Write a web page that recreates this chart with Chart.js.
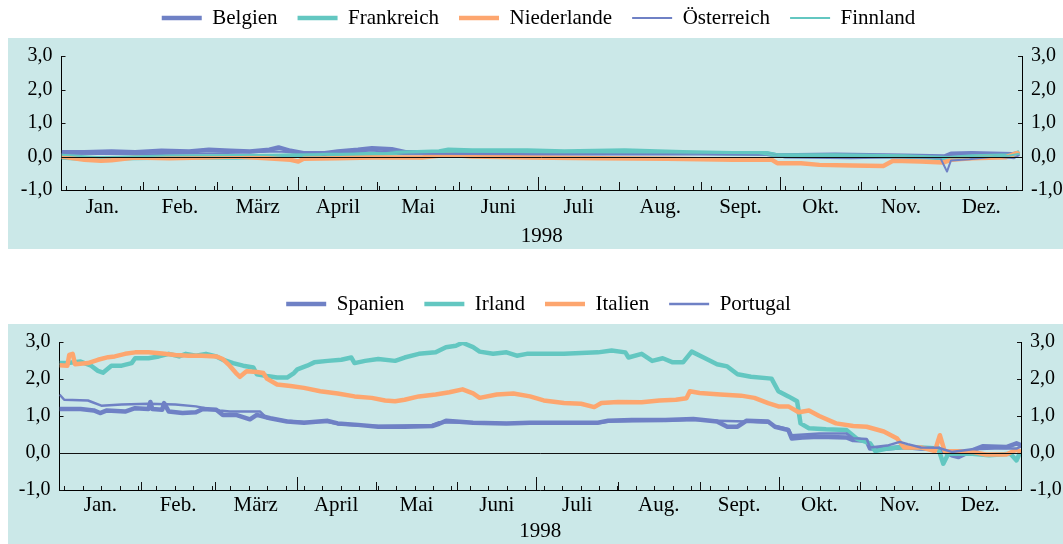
<!DOCTYPE html>
<html>
<head>
<meta charset="utf-8">
<script src="https://cdn.jsdelivr.net/npm/chart.js@4"></script>
<style>
  body { margin: 0; background: #fff; width: 1063px; height: 544px; overflow: hidden; position: relative; }
  canvas { position: absolute; left: 0; }
</style>
</head>
<body>
<canvas id="topChart" width="1063" height="250" style="top:0"></canvas>
<canvas id="bottomChart" width="1063" height="264" style="top:280px"></canvas>
<script>
// === DATA ===
const MONTH_LABELS = ['Jan.', 'Feb.', 'März', 'April', 'Mai', 'Juni', 'Juli', 'Aug.', 'Sept.', 'Okt.', 'Nov.', 'Dez.'];
const MONTH_STARTS = [0, 31, 59, 90, 120, 151, 181, 212, 243, 273, 304, 334, 365];
const QUARTER_STARTS = [90, 181, 273];
const WEEK_TICK_START = 1.8;
const Y_TICKS = [-1, 0, 1, 2, 3];
const YEAR_LABEL = '1998';

// top panel: [day of year, value]
const belgien = [[0,0.13],[8.7,0.13],[19,0.15],[28,0.13],[38,0.17],[48.5,0.15],[56,0.2],[64,0.17],[71.6,0.15],[79,0.2],[82.5,0.27],[87,0.17],[92,0.1],[100,0.1],[105,0.15],[112.7,0.2],[118,0.25],[125.5,0.22],[130.7,0.13],[143.5,0.13],[156,0.1],[177,0.1],[191,0.1],[217,0.1],[242.5,0.1],[268,0.08],[272,0.03],[294,0.05],[320,0.02],[335.5,0],[338,0.08],[346,0.1],[361.4,0.07],[364,0.1]];
const frankreich = [[0,-0.03],[8.7,-0.07],[21.5,-0.05],[41,-0.03],[66.5,-0.03],[79,0],[92,0.03],[105,0.05],[124,0.1],[143.5,0.15],[147,0.2],[156,0.18],[177,0.18],[191,0.15],[214,0.18],[236,0.13],[255,0.1],[268,0.1],[272,0.03],[294,0.03],[320,0],[337,-0.05],[346,0],[361,0.03],[364,0.13]];
const niederlande = [[0,0],[8.7,-0.1],[15,-0.13],[19,-0.11],[28,-0.03],[41,-0.05],[53.7,-0.03],[66.5,0],[78,-0.05],[87,-0.1],[90,-0.15],[92,-0.07],[105,-0.05],[118,-0.03],[137,-0.03],[147,0.05],[156,0],[178,-0.03],[204,-0.05],[230,-0.07],[255.4,-0.1],[270,-0.1],[272,-0.2],[281,-0.2],[288,-0.25],[300.6,-0.27],[312.3,-0.28],[316,-0.13],[326.5,-0.15],[335,-0.18],[338,-0.1],[346,-0.05],[359,-0.02],[363,0.1],[364,0.07]];
const oesterreich = [[0,0.08],[30,0.07],[60,0.1],[82,0.15],[100,0.07],[118,0.18],[130,0.08],[180,0.07],[240,0.08],[270,0.05],[275,-0.03],[300,-0.05],[320,-0.02],[334,-0.05],[336.5,-0.45],[338,-0.12],[345,-0.08],[355,0],[362,-0.05],[364,0.05]];
const finnland = [[0,0.05],[15,-0.02],[40,0.03],[80,0.05],[120,0.1],[150,0.15],[180,0.13],[230,0.12],[265,0.1],[272,0.02],[300,0],[330,-0.02],[340,-0.03],[360,0.02],[364,0.08]];

// bottom panel
const spanien = [[0,1.19],[8,1.19],[13,1.15],[15.4,1.08],[18,1.15],[24.9,1.12],[28.7,1.21],[33.8,1.19],[34.5,1.38],[35.2,1.19],[39,1.17],[39.7,1.35],[41.5,1.12],[46.7,1.08],[51.8,1.1],[54.4,1.19],[59.5,1.17],[62,1.03],[67,1.03],[72.3,0.91],[74.9,1.03],[80,0.94],[86.4,0.85],[92.8,0.82],[101.8,0.87],[105.6,0.8],[113.3,0.76],[121,0.71],[131,0.71],[141.5,0.73],[144.1,0.79],[146.7,0.87],[157,0.82],[169.7,0.8],[178.6,0.82],[204.4,0.82],[208.3,0.87],[217.3,0.89],[230,0.89],[240.6,0.92],[247,0.87],[249.6,0.85],[253.5,0.71],[257.4,0.71],[260.7,0.87],[269,0.85],[271.6,0.71],[276.7,0.62],[278,0.39],[282,0.42],[288.4,0.44],[298.7,0.42],[301.3,0.35],[306.4,0.33],[307.7,0.12],[314.2,0.12],[320.6,0.16],[327,0.12],[333.6,0.12],[338.7,-0.06],[341.3,-0.11],[346.5,0.07],[350.4,0.18],[359.4,0.16],[363.3,0.26],[365,0.21]];
const irland = [[0,2.43],[3,2.43],[8,2.47],[12,2.36],[14.6,2.22],[16.5,2.17],[19.7,2.36],[23.6,2.36],[27.4,2.43],[28.7,2.56],[33.8,2.56],[37.7,2.61],[41.5,2.68],[45.4,2.61],[48,2.68],[51.8,2.63],[55.6,2.68],[59.5,2.61],[62,2.52],[65.9,2.43],[69.7,2.36],[73.6,2.31],[74.9,2.13],[78.7,2.08],[82.6,2.04],[86.4,2.04],[89,2.16],[90.3,2.26],[94,2.36],[96.7,2.45],[101.8,2.49],[107,2.52],[110.8,2.58],[112,2.43],[116,2.49],[121,2.54],[127.4,2.49],[131,2.58],[136.4,2.68],[142.8,2.72],[146.7,2.86],[150.5,2.9],[153,2.98],[157,2.86],[159.5,2.74],[164.6,2.68],[169.7,2.72],[173.6,2.63],[177.4,2.68],[191.5,2.68],[204.4,2.72],[209.6,2.77],[214.8,2.72],[216,2.58],[221,2.68],[225,2.49],[229,2.56],[232.8,2.45],[236.7,2.45],[240,2.74],[244.5,2.58],[249.6,2.4],[253.5,2.34],[257.4,2.13],[262.5,2.06],[270.3,2.01],[272.9,1.67],[276.7,1.53],[280,1.4],[281.3,0.8],[284.5,0.67],[291,0.64],[298.7,0.62],[302.6,0.39],[307.7,0.26],[309.7,0.05],[314.2,0.12],[320.6,0.16],[327,0.15],[333.6,0.12],[335.5,-0.29],[337.4,-0.02],[346.5,-0.02],[352.9,-0.06],[361,-0.02],[363.3,-0.2],[365,0.07]];
const italien = [[0,2.37],[3,2.36],[3.7,2.65],[5,2.68],[5.9,2.4],[10.8,2.43],[14.6,2.52],[18.5,2.59],[21,2.61],[24.9,2.68],[28.7,2.72],[33.8,2.72],[39,2.69],[44,2.65],[49,2.63],[54,2.63],[59.5,2.61],[62,2.54],[64.6,2.36],[67,2.16],[68.5,2.06],[71,2.21],[74.9,2.19],[77.4,2.16],[78.7,2.01],[82.6,1.85],[87.7,1.81],[92.8,1.76],[99,1.67],[105.6,1.61],[112,1.53],[118.5,1.49],[123.6,1.42],[127.4,1.4],[131,1.44],[136.4,1.53],[142.8,1.58],[148,1.64],[153,1.72],[157,1.61],[159.5,1.49],[166,1.58],[172.3,1.61],[178.6,1.53],[183.8,1.42],[191.5,1.35],[198,1.33],[203,1.24],[205.7,1.35],[212,1.38],[221,1.37],[227.7,1.42],[234,1.44],[238,1.48],[239.3,1.67],[243,1.62],[250.9,1.58],[258.7,1.55],[263.8,1.49],[269,1.35],[272.9,1.26],[276.7,1.26],[280.6,1.1],[284.5,1.15],[288.4,1],[294.8,0.8],[301.3,0.73],[306.4,0.71],[312.9,0.58],[318,0.39],[320.6,0.15],[327,0.15],[332.3,0.05],[334.2,0.48],[336,0.05],[341.3,0.05],[346.5,0.03],[351.6,-0.04],[359.4,-0.04],[363.3,0.09],[365,0.03]];
const portugal = [[0,1.58],[1.8,1.44],[10.8,1.42],[15.9,1.28],[23.6,1.31],[33.8,1.33],[44,1.31],[51.8,1.26],[56.9,1.19],[60.8,1.15],[64.6,1.12],[76.2,1.12],[78.7,0.94],[86.4,0.87],[92.8,0.84],[101.8,0.84],[105.6,0.78],[113.3,0.74],[121,0.73],[131,0.74],[141.5,0.76],[144.1,0.83],[157,0.82],[178.6,0.8],[204.4,0.8],[208.3,0.85],[230,0.87],[240.6,0.9],[249.6,0.87],[260.7,0.85],[269,0.82],[271.6,0.73],[276.7,0.65],[278,0.48],[288.4,0.53],[298.7,0.53],[301.3,0.4],[306.4,0.38],[307.7,0.15],[314.2,0.2],[319,0.3],[322,0.24],[327,0.15],[333.6,0.14],[338.7,0.03],[346.5,0.1],[355,0.12],[363.3,0.12],[365,0.18]];

// === STYLE ===
const BLUE = '#6f81c5', TEAL = '#63c7c1', ORANGE = '#fda66f', PANEL = '#cbe8e8';
const SERIF = "'Liberation Serif', 'Times New Roman', serif";
const FONT = { family: SERIF, size: 21, lineHeight: 1 };
const TICK_FONT = { family: SERIF, size: 20, lineHeight: 1 };

const monthMids = MONTH_LABELS.map((_, i) => (MONTH_STARTS[i] + MONTH_STARTS[i + 1]) / 2);
const yLabel = v => v.toFixed(1).replace('.', ',');

function series(label, pts, color, width, i) {
    return {
        label, data: pts.map(p => ({ x: p[0], y: p[1] })),
        borderColor: color, backgroundColor: color, borderWidth: width,
        pointBorderColor: color, pointBorderWidth: width,
        pointRadius: 0, pointHoverRadius: 0, tension: 0, borderJoinStyle: 'round', order: -i
    };
}

// teal panel behind plot
const panelBg = (top, bottom) => ({
    id: 'panelBg',
    beforeDraw(chart) {
        const { ctx, width } = chart;
        ctx.save(); ctx.fillStyle = PANEL; ctx.fillRect(8, top, width - 8, bottom - top); ctx.restore();
    }
});

// extra room between legend and plot
const legendGap = extra => ({
    id: 'legendGap',
    beforeLayout(chart) {
        const lg = chart.legend;
        if (lg && !lg._gapFixed) {
            const fit = lg.fit;
            lg.fit = function () { fit.call(this); this.height += extra; };
            lg._gapFixed = true;
        }
    }
});

// zero line + inward tick marks
const axisMarks = {
    id: 'axisMarks',
    afterDatasetsDraw(chart) {
        const { ctx, chartArea: a, scales: { x, y } } = chart;
        const px = v => Math.round(x.getPixelForValue(v)) + 0.5;
        const py = v => Math.round(y.getPixelForValue(v)) + 0.5;
        ctx.save();
        ctx.strokeStyle = '#111'; ctx.lineWidth = 1;
        ctx.beginPath();
        ctx.moveTo(a.left, py(0)); ctx.lineTo(a.right, py(0));
        for (let d = WEEK_TICK_START; d < 365; d += 7) { ctx.moveTo(px(d), a.bottom); ctx.lineTo(px(d), a.bottom - 4); }
        MONTH_STARTS.slice(1, -1).forEach(d => {
            const len = QUARTER_STARTS.includes(d) ? 13 : 8;
            ctx.moveTo(px(d), a.bottom); ctx.lineTo(px(d), a.bottom - len);
        });
        Y_TICKS.forEach(v => {
            ctx.moveTo(a.left, py(v)); ctx.lineTo(a.left + 4, py(v));
            ctx.moveTo(a.right, py(v)); ctx.lineTo(a.right - 4, py(v));
        });
        ctx.stroke();
        ctx.restore();
    }
};

function yScale(position, width) {
    return {
        position, min: -1, max: 3,
        grid: { display: false, drawTicks: false }, border: { color: '#000' },
        afterBuildTicks: s => { s.ticks = Y_TICKS.map(v => ({ value: v })); },
        ticks: { font: TICK_FONT, color: '#000', padding: 9, callback: yLabel },
        afterFit: s => { s.width = width; }
    };
}

function makeChart(id, datasets, o) {
    return new Chart(document.getElementById(id), {
        type: 'line',
        data: { datasets },
        options: {
            responsive: false, animation: false, events: [],
            layout: { padding: { top: o.legendTop, left: 14, right: 0, bottom: 0 } },
            plugins: {
                legend: {
                    labels: {
                        font: FONT, color: '#000', usePointStyle: true, pointStyle: 'line', pointStyleWidth: 40, padding: 20,
                        sort: (a, b) => a.datasetIndex - b.datasetIndex
                    }
                },
                tooltip: { enabled: false }
            },
            scales: {
                x: {
                    type: 'linear', min: 0, max: 365,
                    grid: { display: false, drawTicks: false }, border: { color: '#000' },
                    afterBuildTicks: s => { s.ticks = monthMids.map(v => ({ value: v })); },
                    ticks: { font: FONT, color: '#000', padding: o.tickPad, autoSkip: false, maxRotation: 0, callback: (v, i) => MONTH_LABELS[i] },
                    title: { display: true, text: YEAR_LABEL, font: FONT, color: '#000', padding: { top: 0, bottom: o.titleBottom } },
                    afterFit: s => { s.height = o.xH; }
                },
                y: yScale('left', o.leftW),
                y2: yScale('right', o.rightW)
            }
        },
        plugins: [panelBg(o.bgTop, o.bgBottom), legendGap(17.5), axisMarks]
    });
}

makeChart('topChart', [
    series('Belgien', belgien, BLUE, 4.5, 0),
    series('Frankreich', frankreich, TEAL, 4.5, 1),
    series('Niederlande', niederlande, ORANGE, 4.5, 2),
    series('Österreich', oesterreich, BLUE, 2, 3),
    series('Finnland', finnland, TEAL, 2, 4)
], { legendTop: -12.5, bgTop: 38, bgBottom: 249, xH: 60, tickPad: 6.5, titleBottom: 3.5, leftW: 47.5, rightW: 41 });

makeChart('bottomChart', [
    series('Spanien', spanien, BLUE, 4.5, 0),
    series('Irland', irland, TEAL, 4.5, 1),
    series('Italien', italien, ORANGE, 4.5, 2),
    series('Portugal', portugal, BLUE, 2.5, 3)
], { legendTop: -6.5, bgTop: 44, bgBottom: 264, xH: 54, tickPad: 4.5, titleBottom: 2.5, leftW: 45.5, rightW: 42 });
</script>
</body>
</html>
